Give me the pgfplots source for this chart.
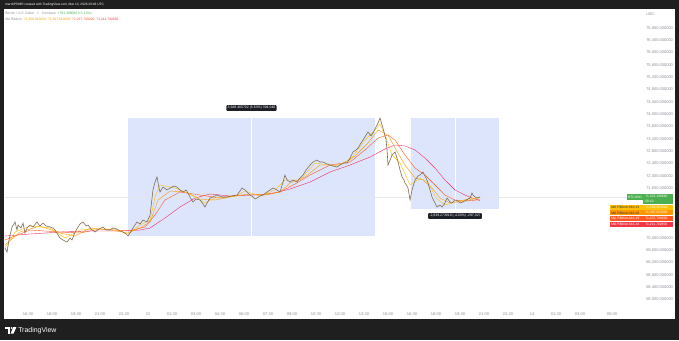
\documentclass[border=0pt]{standalone}
\usepackage{fontspec}
\setmainfont{Liberation Sans}
\usepackage{pgfplots}
\pgfplotsset{compat=1.18}
\definecolor{frame}{HTML}{1F1F1F}
\definecolor{tvgray}{HTML}{8A8D96}
\definecolor{rectfill}{HTML}{DCE5FC}
\definecolor{boxdark}{HTML}{1C1F26}
\definecolor{tvgreen}{HTML}{4CAF50}
\definecolor{maA}{HTML}{FFC107}
\definecolor{maB}{HTML}{FF9800}
\definecolor{maC}{HTML}{FF5722}
\definecolor{maD}{HTML}{F23645}
\definecolor{pricec}{HTML}{7F6B55}
\definecolor{pline}{HTML}{E3E6EC}
\newcommand{\fs}[1]{\fontsize{#1}{#1}\selectfont}
\begin{document}
\begin{tikzpicture}
\begin{scope}[x=0.75pt,y=-0.75pt]
\fill[frame] (0,0) rectangle (679,340);
\fill[white] (4,8.5) rectangle (675,319);
\end{scope}
\begin{axis}[
  at={(3.75pt,-231.75pt)}, anchor=south west,
  scale only axis, width=478.5pt, height=225pt,
  xmin=15.0625, xmax=54.9375, ymin=67702.5, ymax=77410.5,
  axis line style={draw=none},
  major tick length=0pt, tick style={draw=none},
  scaled y ticks=false, scaled x ticks=false,
  xtick={16.5,18,19.5,21,22.5,24,25.5,27,28.5,30,31.5,33,34.5,36,37.5,39,40.5,42,43.5,45,46.5,48,49.5,51,53},
  xticklabels={16:30,18:00,19:30,21:00,22:30,13,01:30,03:00,04:30,06:00,07:30,09:00,10:30,12:00,13:30,15:00,16:30,18:00,19:30,21:00,22:30,14,01:30,03:00,05:00},
  ytick={68000,68400,68800,69200,69600,70000,71600,72000,72400,72800,73200,73600,74000,74400,74800,75200,75600,76000,76400,76800},
  yticklabel pos=right,
  yticklabel style={anchor=west, inner sep=0pt, xshift=2.25pt, font=\fs{3}, text=tvgray,
    /pgf/number format/fixed, /pgf/number format/fixed zerofill, /pgf/number format/precision=6, /pgf/number format/1000 sep={,}, /pgf/number format/assume math mode=true},
  xticklabel style={anchor=north, inner sep=0pt, yshift=-2.4pt, font=\fs{3}, text=tvgray},
]
% measurement rectangles
\fill[rectfill] (axis cs:22.75,70065) rectangle (axis cs:38.19,73883);
\fill[rectfill] (axis cs:40.44,70939) rectangle (axis cs:45.94,73883);
\draw[white, line width=0.5pt] (axis cs:30.47,70065) -- (axis cs:30.47,73883);
\draw[white, line width=0.5pt] (axis cs:43.19,70939) -- (axis cs:43.19,73883);
% current price line
\addplot[pline, line width=0.4pt, forget plot] coordinates {(15.0625,71323) (54.9375,71323)};
% MA #4
\addplot[maD!85!magenta, line width=0.3pt] coordinates {
(15.06,70065) (16.63,70129) (18.5,70194) (20.38,70227) (22.25,70227) (23.5,70259) (24.13,70324) (25.06,70647) (26.0,71003) (26.94,71294) (27.88,71424) (29.13,71359) (30.38,71391) (31.63,71424) (32.88,71586) (34.13,71812) (35.38,72136) (36.63,72362) (37.88,72621) (38.81,72880) (39.44,73010) (40.06,72977) (40.69,72848) (41.31,72589) (41.94,72265) (42.56,71877) (43.19,71553) (43.81,71391) (44.25,71294) (44.75,71212)};
% MA #3
\addplot[maC, line width=0.3pt] coordinates {
(15.06,69935) (16.63,70259) (18.5,70194) (19.75,70162) (21.0,70291) (22.75,70227) (23.81,70356) (24.44,70744) (25.06,71230) (26.0,71489) (27.25,71391) (28.5,71294) (29.75,71391) (31.0,71391) (32.25,71489) (33.19,71747) (34.13,72039) (35.38,72362) (36.63,72459) (37.56,72848) (38.38,73236) (39.0,73333) (39.44,73171) (40.06,72686) (40.69,72265) (41.31,72039) (41.94,71715) (42.56,71391) (43.19,71230) (43.81,71197) (44.75,71238)};
% MA #2
\addplot[maB, line width=0.3pt] coordinates {
(15.06,69773) (16.0,70194) (17.25,70388) (18.5,70162) (19.44,70065) (20.38,70324) (21.63,70259) (22.75,70162) (23.5,70324) (24.13,70518) (24.63,71230) (25.38,71521) (26.31,71489) (27.25,71262) (28.19,71230) (29.13,71327) (30.38,71424) (31.31,71391) (32.25,71489) (32.88,71780) (33.81,71974) (34.75,72362) (36.0,72362) (36.94,72654) (37.75,73074) (38.38,73495) (39.0,73333) (39.44,72912) (40.06,72362) (40.69,71942) (41.19,71877) (41.75,71618) (42.25,71294) (42.88,71133) (43.81,71197) (44.75,71308)};
% MA #1
\addplot[maA, line width=0.3pt] coordinates {
(15.06,69676) (15.69,70194) (16.63,70388) (17.88,70324) (18.81,70000) (19.75,70259) (20.69,70291) (21.94,70291) (22.75,70129) (23.5,70421) (24.13,70582) (24.44,71327) (24.75,71715) (25.69,71618) (26.63,71424) (27.56,71133) (28.19,71294) (29.44,71359) (30.06,71521) (31.0,71359) (31.94,71553) (32.56,71877) (33.5,71877) (34.44,72427) (35.69,72330) (36.63,72524) (37.56,73171) (38.19,73495) (38.5,73689) (38.88,73236) (39.25,72686) (39.75,72427) (40.38,71715) (41.0,71942) (41.5,71812) (42.0,71294) (42.56,71068) (43.19,71165) (44.0,71262) (44.75,71310)};
% price (BTCUSD)
\addplot[pricec, line width=0.45pt] coordinates {
(15.06,69676) (15.19,69547) (15.31,69935) (15.5,70356) (15.69,70518) (15.81,70259) (15.88,70421) (16.06,70324) (16.19,70485) (16.31,70162) (16.44,70324) (16.63,70421) (16.81,70356) (17.06,70518) (17.25,70388) (17.44,70485) (17.63,70388) (17.88,70356) (18.06,70324) (18.19,70259) (18.38,70097) (18.5,70000) (18.69,69935) (18.94,69870) (19.13,70000) (19.25,69935) (19.44,70194) (19.63,70356) (19.75,70453) (19.94,70518) (20.13,70388) (20.25,70421) (20.44,70291) (20.69,70194) (20.94,70291) (21.19,70356) (21.38,70259) (21.63,70259) (21.81,70324) (22.06,70291) (22.25,70227) (22.44,70194) (22.63,70129) (22.75,70065) (22.88,70162) (23.06,70324) (23.31,70518) (23.5,70453) (23.69,70582) (23.94,70518) (24.13,70744) (24.31,71553) (24.44,71812) (24.56,71974) (24.69,71618) (24.75,71489) (24.94,71650) (25.19,71553) (25.38,71618) (25.63,71683) (25.81,71650) (26.0,71553) (26.19,71489) (26.38,71553) (26.5,71456) (26.69,71262) (26.81,71165) (27.0,71262) (27.25,71230) (27.44,71100) (27.56,71003) (27.69,71133) (27.88,71294) (28.06,71327) (28.31,71391) (28.63,71327) (28.94,71327) (29.25,71359) (29.56,71391) (29.75,71521) (29.88,71618) (30.06,71553) (30.19,71489) (30.38,71391) (30.56,71327) (30.69,71262) (30.81,71294) (31.0,71359) (31.19,71391) (31.44,71489) (31.63,71553) (31.81,71618) (32.06,71553) (32.25,71489) (32.44,71812) (32.56,72039) (32.69,71877) (32.88,71812) (33.06,71877) (33.31,71812) (33.5,71942) (33.69,72039) (33.88,72201) (34.13,72362) (34.31,72459) (34.56,72524) (34.75,72459) (34.94,72459) (35.19,72395) (35.38,72362) (35.56,72330) (35.81,72297) (36.0,72362) (36.25,72427) (36.44,72427) (36.63,72589) (36.81,72783) (37.0,72848) (37.13,72912) (37.31,73074) (37.44,73171) (37.63,73333) (37.75,73430) (37.94,73301) (38.06,73398) (38.25,73592) (38.38,73721) (38.5,73883) (38.63,73657) (38.75,73430) (38.88,73171) (38.94,72848) (39.0,72362) (39.13,72524) (39.25,72686) (39.44,72783) (39.56,72589) (39.63,72459) (39.75,72201) (39.88,71974) (40.0,71877) (40.06,71780) (40.19,71683) (40.25,71618) (40.38,71230) (40.5,71553) (40.69,71877) (40.88,72006) (41.0,72039) (41.19,72136) (41.31,72006) (41.44,71877) (41.63,71553) (41.75,71327) (41.94,71133) (42.06,71003) (42.25,71068) (42.38,71003) (42.56,71133) (42.69,71294) (42.88,71165) (43.0,71133) (43.19,71230) (43.38,71197) (43.5,71133) (43.69,71165) (43.88,71230) (44.13,71294) (44.25,71456) (44.31,71391) (44.44,71327) (44.56,71294) (44.75,71327)};
% measurement labels
\node[fill=boxdark, text=white, rounded corners=0.6pt, inner sep=0.9pt, font=\fs{2.6}] at (axis cs:30.47,74207) {3,948.405702 (5.63\%) 394,040};
\node[fill=boxdark, text=white, rounded corners=0.6pt, inner sep=0.9pt, font=\fs{2.6}] at (axis cs:43.19,70712) {-2,939.273919 (-4.03\%) -297,027};
\end{axis}
\begin{scope}[x=0.75pt,y=-0.75pt]
% header
\node[anchor=west, text=white, inner sep=0pt, font=\fs{2.4}] at (5,4.3) {marchPRMR created with TradingView.com, Mar 13, 2026 20:46 UTC};
\node[anchor=west, inner sep=0pt, font=\fs{2.5}] at (5,13.5) {\textcolor{tvgray}{Bitcoin / U.S. Dollar · 1 · Coinbase}\hspace{1.2pt}\textcolor{tvgreen}{+791.398000 (+1.12\%)}};
\node[anchor=west, inner sep=0pt, font=\fs{2.5}] at (5,19.3) {\textcolor{tvgray}{MA Ribbon}\hspace{1.5pt}\textcolor{maA!90!black}{71,309.982000}\hspace{1.5pt}\textcolor{maB}{71,307.652000}\hspace{1.5pt}\textcolor{maC}{71,237.798000}\hspace{1.5pt}\textcolor{maD}{71,211.792850}};
\node[anchor=west, inner sep=0pt, text=tvgray, font=\fs{2.8}] at (646,14) {USD};
% right-side tags
\fill[tvgreen] (627,194.3) rectangle (643,199.7);
\fill[tvgreen] (643,194.3) rectangle (673,203.7);
\node[anchor=center, inner sep=0pt, text=white, font=\fs{2.5}] at (635,197) {BTCUSD};
\node[anchor=west, inner sep=0pt, text=white, font=\fs{2.5}] at (645,196.8) {71,323.198880};
\node[anchor=west, inner sep=0pt, text=white, font=\fs{2.5}] at (645,201.3) {00:42};
\fill[maA] (610,205) rectangle (673,209.7);
\fill[maB] (610,210.3) rectangle (673,215.2);
\fill[maC] (610,216) rectangle (673,221);
\fill[maD] (610,221.7) rectangle (673,227);
\node[anchor=west, inner sep=0pt, text=black!80, font=\fs{2.6}] at (611,207.4) {MA Ribbon:MA \#1};
\node[anchor=west, inner sep=0pt, text=black!80, font=\fs{2.6}] at (611,212.8) {MA Ribbon:MA \#2};
\node[anchor=west, inner sep=0pt, text=white, font=\fs{2.6}] at (611,218.5) {MA Ribbon:MA \#3};
\node[anchor=west, inner sep=0pt, text=white, font=\fs{2.6}] at (611,224.3) {MA Ribbon:MA \#4};
\node[anchor=west, inner sep=0pt, text=white, font=\fs{2.5}] at (645,207.4) {71,309.982000};
\node[anchor=west, inner sep=0pt, text=white, font=\fs{2.5}] at (645,212.8) {71,307.652000};
\node[anchor=west, inner sep=0pt, text=white, font=\fs{2.5}] at (645,218.5) {71,237.798000};
\node[anchor=west, inner sep=0pt, text=white, font=\fs{2.5}] at (645,224.3) {71,211.792850};
% footer logo
\fill[white] (5,327) rectangle (10,329);
\fill[white] (7.6,327) rectangle (10,333.5);
\fill[white] (11.6,328) circle (1);
\fill[white] (13.2,327) -- (16.4,327) -- (13.6,333.5) -- (10.6,333.5) -- cycle;
\node[anchor=west, inner sep=0pt, text=white, font=\fs{5.2}] at (18,330.3) {TradingView};
\end{scope}
\pgfresetboundingbox
\path[use as bounding box] (0,0) rectangle (509.25pt,-255pt);
\end{tikzpicture}
\end{document}
